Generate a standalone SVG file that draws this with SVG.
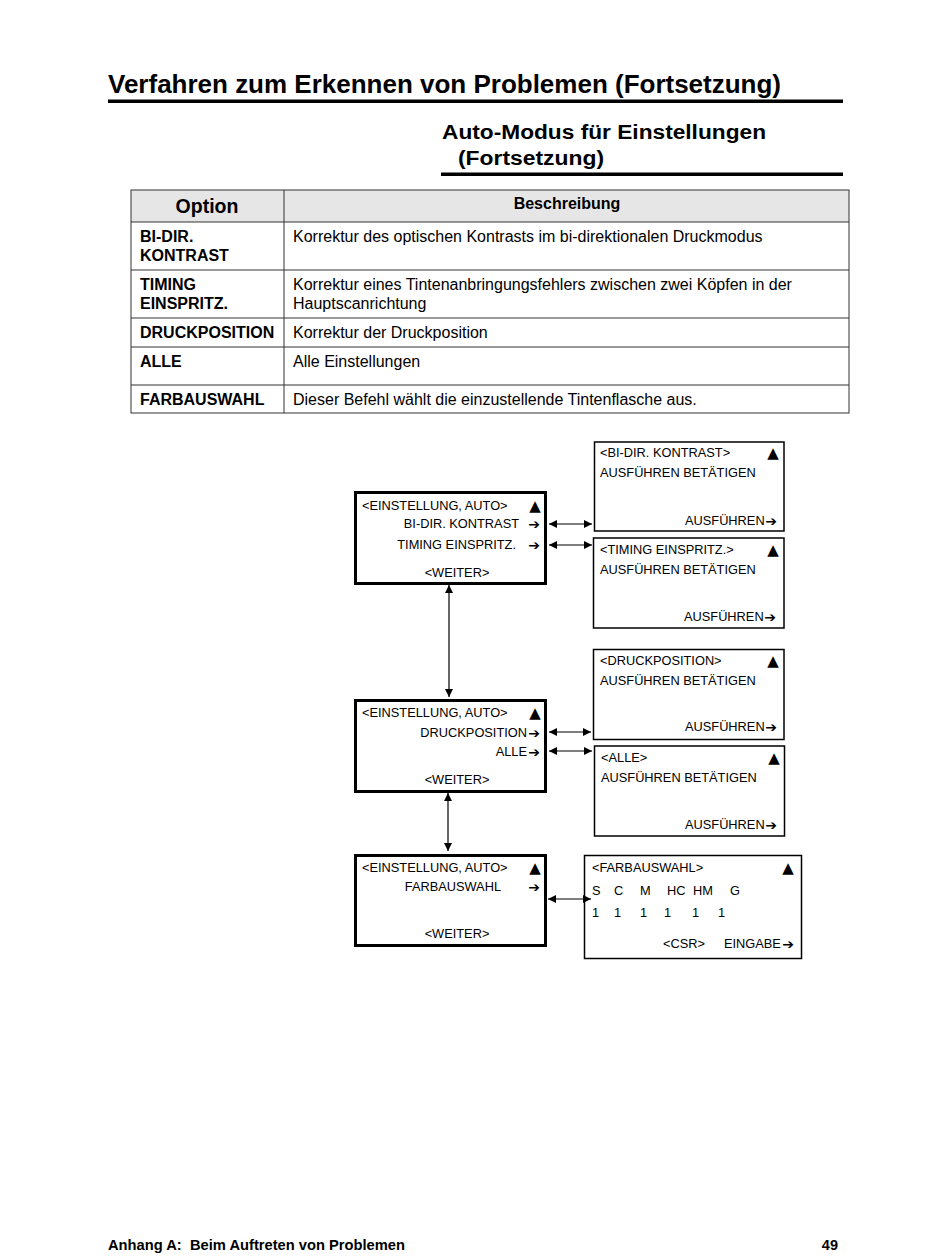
<svg xmlns="http://www.w3.org/2000/svg" width="950" height="1260" viewBox="0 0 950 1260">
<style>
text{font-family:"Liberation Sans","DejaVu Sans",Arial,sans-serif;fill:#000}
.t1{font-size:25px;font-weight:bold}
.t2{font-size:20px;font-weight:bold}
.th{font-size:19.5px;font-weight:bold}
.th2{font-size:16px;font-weight:bold}
.opt{font-size:16px;font-weight:bold}
.desc{font-size:16px}
.bx{font-size:12.8px}
.sym{font-family:"DejaVu Sans",sans-serif;font-size:15px}
.arr{font-family:"DejaVu Sans",sans-serif;font-size:14px;font-weight:bold}
.foot{font-size:14.5px;font-weight:bold}
.lb{fill:#fff;stroke:#000;stroke-width:3}
.rb{fill:#fff;stroke:#000;stroke-width:1.5}
.cell{fill:none;stroke:#333;stroke-width:1}
.con{stroke:#000;stroke-width:1.2;fill:none;marker-start:url(#ah);marker-end:url(#ah)}
</style>
<defs>
<marker id="ah" viewBox="0 0 10 10" refX="10" refY="5" markerWidth="8" markerHeight="8" markerUnits="userSpaceOnUse" orient="auto-start-reverse">
<path d="M0,0 L10,5 L0,10 z" fill="#000"/>
</marker>
</defs>
<rect width="950" height="1260" fill="#fff"/>

<g id="header">
<text class="t1" x="108" y="93" textLength="673" lengthAdjust="spacingAndGlyphs">Verfahren zum Erkennen von Problemen (Fortsetzung)</text>
<rect x="108" y="99.5" width="735" height="3.5" fill="#000"/>
<text class="t2" x="442" y="139" textLength="324" lengthAdjust="spacingAndGlyphs">Auto-Modus für Einstellungen</text>
<text class="t2" x="458" y="165" textLength="146" lengthAdjust="spacingAndGlyphs">(Fortsetzung)</text>
<rect x="441" y="172.5" width="402" height="3.5" fill="#000"/>
</g>

<g id="table">
<rect x="131" y="190" width="718" height="32" fill="#e6e6e6"/>
<rect class="cell" x="131" y="190" width="718" height="223"/>
<line class="cell" x1="284" y1="190" x2="284" y2="413"/>
<line class="cell" x1="131" y1="222" x2="849" y2="222"/>
<line class="cell" x1="131" y1="270" x2="849" y2="270"/>
<line class="cell" x1="131" y1="318" x2="849" y2="318"/>
<line class="cell" x1="131" y1="347" x2="849" y2="347"/>
<line class="cell" x1="131" y1="385" x2="849" y2="385"/>
<text class="th" x="207" y="213" text-anchor="middle">Option</text>
<text class="th2" x="567" y="209" text-anchor="middle">Beschreibung</text>
<text class="opt" x="140" y="242">BI-DIR.</text>
<text class="opt" x="140" y="261">KONTRAST</text>
<text class="desc" x="293" y="242">Korrektur des optischen Kontrasts im bi-direktionalen Druckmodus</text>
<text class="opt" x="140" y="290">TIMING</text>
<text class="opt" x="140" y="309">EINSPRITZ.</text>
<text class="desc" x="293" y="290">Korrektur eines Tintenanbringungsfehlers zwischen zwei Köpfen in der</text>
<text class="desc" x="293" y="309">Hauptscanrichtung</text>
<text class="opt" x="140" y="338">DRUCKPOSITION</text>
<text class="desc" x="293" y="338">Korrektur der Druckposition</text>
<text class="opt" x="140" y="367">ALLE</text>
<text class="desc" x="293" y="367">Alle Einstellungen</text>
<text class="opt" x="140" y="405">FARBAUSWAHL</text>
<text class="desc" x="293" y="405">Dieser Befehl wählt die einzustellende Tintenflasche aus.</text>
</g>

<g id="menu1">
<rect class="lb" x="355.5" y="492.5" width="190" height="91"/>
<text class="bx" x="362" y="510">&lt;EINSTELLUNG, AUTO&gt;</text>
<text class="sym" x="535" y="511" text-anchor="middle">▲</text>
<text class="bx" x="519" y="528" text-anchor="end">BI-DIR. KONTRAST</text>
<text class="arr" x="534" y="529" text-anchor="middle">➔</text>
<text class="bx" x="516" y="549" text-anchor="end">TIMING EINSPRITZ.</text>
<text class="arr" x="534" y="550" text-anchor="middle">➔</text>
<text class="bx" x="457" y="577" text-anchor="middle">&lt;WEITER&gt;</text>
</g>

<g id="bidir">
<rect class="rb" x="594.5" y="442" width="189.5" height="89"/>
<text class="bx" x="600" y="457">&lt;BI-DIR. KONTRAST&gt;</text>
<text class="sym" x="773" y="458" text-anchor="middle">▲</text>
<text class="bx" x="600" y="477">AUSFÜHREN BETÄTIGEN</text>
<text class="bx" x="685" y="525">AUSFÜHREN</text>
<text class="arr" x="771" y="526" text-anchor="middle">➔</text>
</g>

<g id="timing">
<rect class="rb" x="593.5" y="538" width="190.5" height="90"/>
<text class="bx" x="600" y="554">&lt;TIMING EINSPRITZ.&gt;</text>
<text class="sym" x="773" y="555" text-anchor="middle">▲</text>
<text class="bx" x="600" y="574">AUSFÜHREN BETÄTIGEN</text>
<text class="bx" x="684" y="621">AUSFÜHREN</text>
<text class="arr" x="770" y="622" text-anchor="middle">➔</text>
</g>

<g id="menu2">
<rect class="lb" x="355.5" y="700.5" width="190" height="91"/>
<text class="bx" x="362" y="717">&lt;EINSTELLUNG, AUTO&gt;</text>
<text class="sym" x="535" y="718" text-anchor="middle">▲</text>
<text class="bx" x="527" y="737" text-anchor="end">DRUCKPOSITION</text>
<text class="arr" x="534" y="738" text-anchor="middle">➔</text>
<text class="bx" x="527" y="756" text-anchor="end">ALLE</text>
<text class="arr" x="534" y="757" text-anchor="middle">➔</text>
<text class="bx" x="457" y="784" text-anchor="middle">&lt;WEITER&gt;</text>
</g>

<g id="druckposition">
<rect class="rb" x="593.5" y="649.5" width="190.5" height="90"/>
<text class="bx" x="600" y="665">&lt;DRUCKPOSITION&gt;</text>
<text class="sym" x="773" y="666" text-anchor="middle">▲</text>
<text class="bx" x="600" y="685">AUSFÜHREN BETÄTIGEN</text>
<text class="bx" x="685" y="731">AUSFÜHREN</text>
<text class="arr" x="771" y="732" text-anchor="middle">➔</text>
</g>

<g id="alle">
<rect class="rb" x="594.5" y="746" width="190" height="90"/>
<text class="bx" x="601" y="762">&lt;ALLE&gt;</text>
<text class="sym" x="774" y="763" text-anchor="middle">▲</text>
<text class="bx" x="601" y="782">AUSFÜHREN BETÄTIGEN</text>
<text class="bx" x="685" y="829">AUSFÜHREN</text>
<text class="arr" x="771" y="830" text-anchor="middle">➔</text>
</g>

<g id="menu3">
<rect class="lb" x="355.5" y="855.5" width="190" height="90"/>
<text class="bx" x="362" y="872">&lt;EINSTELLUNG, AUTO&gt;</text>
<text class="sym" x="535" y="873" text-anchor="middle">▲</text>
<text class="bx" x="501" y="891" text-anchor="end">FARBAUSWAHL</text>
<text class="arr" x="534" y="892" text-anchor="middle">➔</text>
<text class="bx" x="457" y="938" text-anchor="middle">&lt;WEITER&gt;</text>
</g>

<g id="farbauswahl">
<rect class="rb" x="584.5" y="855.5" width="217" height="103"/>
<text class="bx" x="592" y="872">&lt;FARBAUSWAHL&gt;</text>
<text class="sym" x="788" y="873" text-anchor="middle">▲</text>
<text class="bx" x="592" y="895">S</text>
<text class="bx" x="614" y="895">C</text>
<text class="bx" x="640" y="895">M</text>
<text class="bx" x="667" y="895">HC</text>
<text class="bx" x="693" y="895">HM</text>
<text class="bx" x="730" y="895">G</text>
<text class="bx" x="592" y="917">1</text>
<text class="bx" x="614" y="917">1</text>
<text class="bx" x="640" y="917">1</text>
<text class="bx" x="664" y="917">1</text>
<text class="bx" x="692" y="917">1</text>
<text class="bx" x="718" y="917">1</text>
<text class="bx" x="663" y="948">&lt;CSR&gt;</text>
<text class="bx" x="724" y="948">EINGABE</text>
<text class="arr" x="788" y="949" text-anchor="middle">➔</text>
</g>

<g id="connectors">
<line class="con" x1="549" y1="524" x2="592" y2="524"/>
<line class="con" x1="549" y1="545" x2="592" y2="545"/>
<line class="con" x1="449" y1="585" x2="449" y2="697"/>
<line class="con" x1="549" y1="732" x2="591" y2="732"/>
<line class="con" x1="549" y1="751" x2="592" y2="751"/>
<line class="con" x1="448" y1="793" x2="448" y2="851"/>
<line class="con" x1="548" y1="899" x2="591" y2="899"/>
</g>

<g id="footer">
<text class="foot" x="108" y="1250" textLength="297" lengthAdjust="spacingAndGlyphs" xml:space="preserve">Anhang A:  Beim Auftreten von Problemen</text>
<text class="foot" x="838" y="1250" text-anchor="end">49</text>
</g>
</svg>
